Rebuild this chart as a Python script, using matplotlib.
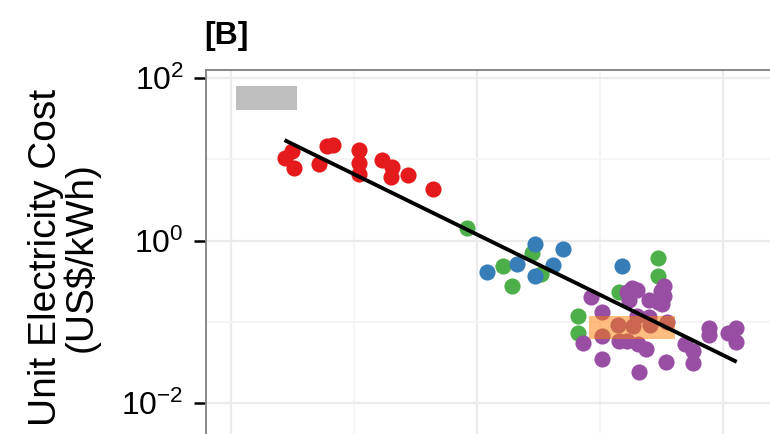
import numpy as np
import matplotlib.pyplot as plt
from matplotlib.patches import Rectangle
from matplotlib.ticker import FixedLocator

plt.rcParams['font.family'] = ['Liberation Sans', 'DejaVu Sans']

# cost data per group (year, US$/kWh)
red_x = [1964.4, 1965.0, 1965.1, 1967.2, 1967.8, 1968.3, 1970.4, 1970.4, 1970.4,
         1972.3, 1973.1, 1973.0, 1974.4, 1976.4]
red_y = [10.3, 12.6, 7.8, 8.7, 14.5, 14.9, 12.9, 9.0, 6.6, 9.7, 8.0, 6.0, 6.4, 4.3]

green_x = [1979.2, 1982.1, 1982.9, 1984.5, 1985.2, 1988.2, 1988.2, 1991.6, 1994.7, 1994.7]
green_y = [1.43, 0.486, 0.276, 0.70, 0.387, 0.118, 0.073, 0.233, 0.61, 0.366]

blue_x = [1980.8, 1983.3, 1984.7, 1984.7, 1986.2, 1987.0, 1991.8]
blue_y = [0.414, 0.519, 0.906, 0.370, 0.505, 0.787, 0.49]

purple_x = [1989.3, 1990.2, 1988.6, 1990.2, 1990.2, 1991.5, 1991.6, 1992.2, 1992.6,
            1993.0, 1992.4, 1993.0, 1992.7, 1992.2, 1993.1, 1993.8, 1994.0, 1994.0,
            1994.1, 1995.0, 1995.2, 1995.2, 1995.1, 1994.7, 1995.5, 1995.4, 1993.2,
            1996.9, 1997.6, 1997.6, 1998.9, 1998.9, 2000.4, 2001.1, 2001.1]
purple_y = [0.202, 0.133, 0.0551, 0.0671, 0.0353, 0.0916, 0.0583, 0.233, 0.261,
            0.247, 0.186, 0.119, 0.0897, 0.0588, 0.054, 0.0469, 0.188, 0.116,
            0.0916, 0.241, 0.276, 0.208, 0.166, 0.175, 0.099, 0.0321, 0.0243,
            0.054, 0.0443, 0.0316, 0.085, 0.0697, 0.0736, 0.085, 0.0571]

# fitted trend (end points)
fit_x = [1964.5, 2001.0]
fit_y = [16.7, 0.0331]

# shaded ranges: (x0, x1, y0, y1)
grey_box = (1960.4, 1965.4, 40.1, 79.1)
orange_box = (1989.1, 1996.1, 0.061, 0.117)

fig = plt.figure(figsize=(7.7, 4.34), dpi=100)
ax = fig.add_axes([206 / 770, -10 / 434, 572 / 770, 374 / 434])

ax.set_yscale('log')
ax.set_xlim(1957.97, 2004.5)
ax.set_ylim(10 ** -2.5, 10 ** 2.0946)

ax.xaxis.set_major_locator(FixedLocator([1960, 1980, 2000]))
ax.xaxis.set_minor_locator(FixedLocator([1970, 1990]))
ax.yaxis.set_major_locator(FixedLocator([1e-2, 1e0, 1e2]))
ax.yaxis.set_minor_locator(FixedLocator([1e-1, 1e1]))
ax.grid(which='major', color='#EBEBEB', lw=1.6, zorder=0)
ax.grid(which='minor', color='#F5F5F5', lw=1.4, zorder=0)
ax.set_axisbelow(True)

ax.tick_params(axis='y', which='major', length=9, width=1.8, color='black',
               labelsize=23, pad=7)
ax.tick_params(axis='y', which='minor', length=0, labelleft=False)
ax.tick_params(axis='x', which='both', length=0, labelbottom=False)
for s in ax.spines.values():
    s.set_color('#888888')
    s.set_linewidth(1.4)

ms = 135
ax.scatter(red_x, red_y, s=ms, color='#E41A1C', lw=0, zorder=2)
ax.scatter(green_x, green_y, s=ms, color='#4DAF4A', lw=0, zorder=2)
ax.scatter(blue_x, blue_y, s=ms, color='#377EB8', lw=0, zorder=2)
ax.scatter(purple_x, purple_y, s=ms, color='#984EA3', lw=0, zorder=2)

x0, x1, y0, y1 = grey_box
ax.add_patch(Rectangle((x0, y0), x1 - x0, y1 - y0, color='#BEBEBE', lw=0, zorder=3))
x0, x1, y0, y1 = orange_box
ax.add_patch(Rectangle((x0, y0), x1 - x0, y1 - y0, color='#FF7F00', alpha=0.5,
                       lw=0, zorder=3))

ax.plot(fit_x, fit_y, color='black', lw=2.8, zorder=4)

ax.set_ylabel('Unit Electricity Cost\n(US$/kWh)', fontsize=28, linespacing=0.93,
              labelpad=16)
fig.text(204 / 770, 1 - 44 / 434, '[B]', fontsize=23, fontweight='bold')

fig.savefig('out.png', dpi=100)
